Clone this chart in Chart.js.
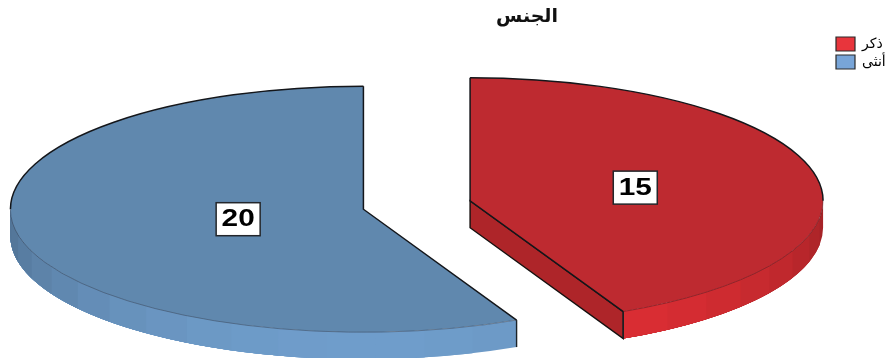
<!DOCTYPE html>
<html lang="ar">
<head>
<meta charset="utf-8">
<title>الجنس</title>
<script src="https://cdn.jsdelivr.net/npm/chart.js@4/dist/chart.umd.min.js"></script>
<style>
  html, body { margin: 0; padding: 0; background: #fff; }
  canvas { display: block; }
</style>
</head>
<body>
<canvas id="genderPie" width="890" height="358"></canvas>
<script>
// Data
const chartTitle = 'الجنس';
const categories = ['ذكر', 'أنثى'];
const genderCounts = [15, 20];

// Colours per slice: top face, rim, cut face and legend swatch
const topColors = ['#BE2A30', '#6088AE'];
const rimColors = ['#E12F35', '#6F9DCB'];
const cutColors = ['#AE2529', '#4F7496'];
const swatchColors = ['#E8353C', '#78A5D8'];

// Fake 3D settings for the tilted pie
const pieCenterY = 205;
const pieRadius = 353;
const tilt = 0.3485;
const rimDepth = 27;
const explode = 54.7;
const facetStep = Math.PI / 22.5;
const labelRadius = [0.48, 0.364];

// Map a point on the flat pie to the tilted position on screen
function tiltY(chart, y) {
  const midY = (chart.chartArea.top + chart.chartArea.bottom) / 2;
  return pieCenterY + (y - midY) * tilt;
}

function shade(hex, f) {
  const n = parseInt(hex.slice(1), 16);
  const r = Math.round(((n >> 16) & 255) * f);
  const g = Math.round(((n >> 8) & 255) * f);
  const b = Math.round((n & 255) * f);
  return `rgb(${r},${g},${b})`;
}

// Pull the slices apart (the arc "offset" option also grows the radius, so move them directly)
const explodePlugin = {
  id: 'explodeSlices',
  afterDatasetsUpdate(chart) {
    chart.getDatasetMeta(0).data.forEach((arc) => {
      const mid = (arc.startAngle + arc.endAngle) / 2;
      arc.x += Math.cos(mid) * explode;
      arc.y += Math.sin(mid) * explode;
    });
  },
};

function drawCutFace(ctx, cx, cy, angle, color) {
  const ex = cx + Math.cos(angle) * pieRadius;
  const ey = cy + Math.sin(angle) * pieRadius * tilt;
  ctx.beginPath();
  ctx.moveTo(cx, cy);
  ctx.lineTo(cx, cy + rimDepth);
  ctx.lineTo(ex, ey + rimDepth);
  ctx.lineTo(ex, ey);
  ctx.closePath();
  ctx.fillStyle = color;
  ctx.fill();
  ctx.strokeStyle = '#15100f';
  ctx.lineWidth = 1.4;
  ctx.stroke();
}

// Rim and cut faces sit under the pie, the top face gets squashed by the same transform
const tiltPlugin = {
  id: 'tiltedPie',
  beforeDatasetDraw(chart) {
    const ctx = chart.ctx;
    const midY = (chart.chartArea.top + chart.chartArea.bottom) / 2;

    chart.getDatasetMeta(0).data.forEach((arc, i) => {
      const cx = arc.x;
      const cy = tiltY(chart, arc.y);
      const from = Math.max(arc.startAngle, 0);
      const to = Math.min(arc.endAngle, Math.PI);

      // rim, split into flat shaded facets; each one paints to the far end so no seams show
      let a = from;
      while (a < to) {
        const next = Math.min((Math.floor(a / facetStep + 1e-6) + 1) * facetStep, to);
        const f = 0.72 + 0.28 * Math.sin((a + next) / 2);
        ctx.beginPath();
        ctx.ellipse(cx, cy, pieRadius, pieRadius * tilt, 0, a, to);
        ctx.ellipse(cx, cy + rimDepth, pieRadius, pieRadius * tilt, 0, to, a, true);
        ctx.closePath();
        ctx.fillStyle = shade(rimColors[i], f);
        ctx.fill();
        a = next;
      }

      // radial cut faces that turn towards the viewer
      if (Math.sin(arc.endAngle + Math.PI / 2) > 0.01) {
        drawCutFace(ctx, cx, cy, arc.endAngle, cutColors[i]);
      }
      if (Math.sin(arc.startAngle - Math.PI / 2) > 0.01) {
        drawCutFace(ctx, cx, cy, arc.startAngle, cutColors[i]);
      }

      // end of the rim where it meets the cut
      [arc.startAngle, arc.endAngle].forEach((edge) => {
        if (Math.sin(edge) > 0.01 && Math.cos(edge) > 0) {
          const ex = cx + Math.cos(edge) * pieRadius;
          const ey = cy + Math.sin(edge) * pieRadius * tilt;
          ctx.beginPath();
          ctx.moveTo(ex, ey);
          ctx.lineTo(ex, ey + rimDepth);
          ctx.strokeStyle = '#1c2226';
          ctx.lineWidth = 1.4;
          ctx.stroke();
        }
      });
    });

    ctx.save();
    ctx.translate(0, pieCenterY);
    ctx.scale(1, tilt);
    ctx.translate(0, -midY);
  },
  afterDatasetDraw(chart) {
    const ctx = chart.ctx;
    ctx.restore();

    // outlines are stroked untransformed so the line width stays even
    chart.getDatasetMeta(0).data.forEach((arc) => {
      const cx = arc.x;
      const cy = tiltY(chart, arc.y);
      const rx = pieRadius;
      const ry = pieRadius * tilt;

      ctx.beginPath();
      ctx.moveTo(cx + Math.cos(arc.endAngle) * rx, cy + Math.sin(arc.endAngle) * ry);
      ctx.lineTo(cx, cy);
      ctx.lineTo(cx + Math.cos(arc.startAngle) * rx, cy + Math.sin(arc.startAngle) * ry);
      ctx.strokeStyle = '#14161a';
      ctx.lineWidth = 1.5;
      ctx.stroke();

      // back of the edge is solid, the front only a thin dark seam
      const s = arc.startAngle;
      const e = arc.endAngle;
      const backFrom = Math.max(s, Math.PI);
      const backTo = Math.min(e, Math.PI * 2);
      if (backTo > backFrom) {
        ctx.beginPath();
        ctx.ellipse(cx, cy, rx, ry, 0, backFrom, backTo);
        ctx.stroke();
      }
      const backFromNeg = Math.max(s, -Math.PI);
      const backToNeg = Math.min(e, 0);
      if (backToNeg > backFromNeg) {
        ctx.beginPath();
        ctx.ellipse(cx, cy, rx, ry, 0, backFromNeg, backToNeg);
        ctx.stroke();
      }
      const frontFrom = Math.max(s, 0);
      const frontTo = Math.min(e, Math.PI);
      if (frontTo > frontFrom) {
        ctx.beginPath();
        ctx.ellipse(cx, cy, rx, ry, 0, frontFrom, frontTo);
        ctx.strokeStyle = 'rgba(30,25,30,0.4)';
        ctx.lineWidth = 0.8;
        ctx.stroke();
      }
    });
  },
  // value boxes on the slices
  afterDatasetsDraw(chart) {
    const ctx = chart.ctx;
    const values = chart.data.datasets[0].data;
    chart.getDatasetMeta(0).data.forEach((arc, i) => {
      const mid = (arc.startAngle + arc.endAngle) / 2;
      const x = arc.x + Math.cos(mid) * pieRadius * labelRadius[i];
      const y = tiltY(chart, arc.y) + Math.sin(mid) * pieRadius * tilt * labelRadius[i];
      ctx.save();
      ctx.fillStyle = '#fff';
      ctx.strokeStyle = '#23262b';
      ctx.lineWidth = 1.5;
      ctx.fillRect(x - 22, y - 16.5, 44, 33);
      ctx.strokeRect(x - 22, y - 16.5, 44, 33);
      ctx.translate(x, y + 0.5);
      ctx.scale(1.24, 1);
      ctx.fillStyle = '#000';
      ctx.font = 'bold 24px "Liberation Sans", Arial, sans-serif';
      ctx.textAlign = 'center';
      ctx.textBaseline = 'middle';
      ctx.fillText(String(values[i]), 0, 0);
      ctx.restore();
    });
  },
};

// Title and legend are placed off-centre, top right of the pie
const placeBoxesPlugin = {
  id: 'placeBoxes',
  afterLayout(chart) {
    const t = chart.titleBlock;
    t.left = 427;
    t.right = 627;
    const l = chart.legend;
    const pad = l.options.labels.padding;
    l.left = 836 - pad;
    l.right = 890;
    l.top = 37 - pad;
    l.bottom = 100;
  },
};

const ctx = document.getElementById('genderPie').getContext('2d');
const genderPie = new Chart(ctx, {
  type: 'pie',
  data: {
    labels: categories,
    datasets: [{
      data: genderCounts,
      backgroundColor: topColors,
      borderWidth: 0,
      radius: pieRadius,
      clip: false,
    }],
  },
  options: {
    responsive: false,
    animation: false,
    devicePixelRatio: 1,
    layout: { padding: { right: 56.5 } },
    plugins: {
      tooltip: { enabled: false },
      title: {
        display: true,
        text: chartTitle,
        color: '#111',
        font: { family: '"DejaVu Sans", sans-serif', size: 19, weight: 'bold' },
        padding: { top: 6, bottom: 6 },
      },
      legend: {
        position: 'chartArea',
        align: 'start',
        labels: {
          boxWidth: 19,
          boxHeight: 14,
          padding: 4,
          color: '#111',
          font: { family: '"DejaVu Sans", sans-serif', size: 14 },
          generateLabels(chart) {
            return categories.map((text, i) => ({
              text,
              index: i,
              fillStyle: swatchColors[i],
              strokeStyle: '#2a2a2a',
              lineWidth: 1.2,
              hidden: false,
            }));
          },
        },
      },
    },
  },
  plugins: [explodePlugin, tiltPlugin, placeBoxesPlugin],
});
</script>
</body>
</html>
